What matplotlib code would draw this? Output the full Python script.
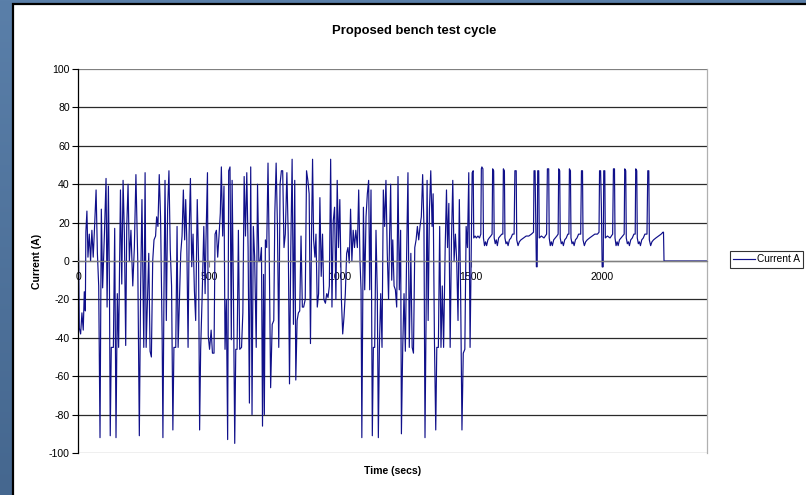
import numpy as np
import matplotlib
matplotlib.use("Agg")
import matplotlib.pyplot as plt
from matplotlib.patches import Rectangle
from matplotlib.colors import LinearSegmentedColormap

plt.rcParams['font.family'] = ['Liberation Sans', 'DejaVu Sans']
plt.rcParams['axes.unicode_minus'] = False

# Drive-cycle portion (0-1500 s): time in seconds, current in amps
drive_time = [
    0, 5, 10, 15, 20, 24, 28, 30, 34, 38, 43, 48, 53, 58, 63, 69, 74, 79, 84, 89,
    94, 101, 107, 111, 116, 120, 123, 127, 135, 140, 145, 150, 155, 162, 167, 172,
    177, 182, 186, 191, 196, 202, 209, 215, 221, 228, 234, 239, 244, 251, 256, 260,
    266, 270, 275, 280, 285,
    290, 296, 300, 305, 310, 315, 321, 324, 328, 332, 337, 342, 347, 352, 357, 362,
    366, 373, 378, 382, 387, 392, 397, 402, 407, 411, 415, 420, 424, 429, 434, 439,
    444, 449, 455, 460, 464, 468, 474, 480, 485, 488, 494, 497, 502, 508, 513, 519,
    523, 528, 533, 538, 543, 547, 552, 557, 561, 566, 571, 575, 580, 585,
    588, 593, 598, 602, 607, 612, 617, 624, 629, 634, 639, 644, 649, 654, 659, 664,
    669, 674, 680, 685, 690, 695, 700, 704, 708, 711, 715, 720, 725, 730, 735, 741,
    747, 751, 756, 761, 766, 771, 776, 781, 786, 791, 797, 802, 807, 812, 817, 822,
    827, 831, 836, 841, 846, 851, 856, 861, 867, 872, 877, 882, 887,
    891, 895, 899, 904, 908, 913, 918, 923, 928, 933, 938, 944, 949, 954, 959, 964,
    969, 974, 979, 984, 989, 994, 999, 1005, 1010, 1015, 1020, 1025, 1030, 1035,
    1040, 1045, 1050, 1055, 1060, 1066, 1071, 1076, 1080, 1083, 1089, 1094, 1099,
    1104, 1109, 1113, 1118, 1123, 1127, 1132, 1137, 1142, 1146, 1150, 1155, 1160,
    1165, 1170, 1175, 1180, 1185,
    1189, 1193, 1197, 1201, 1206, 1211, 1216, 1221, 1226, 1231, 1234, 1239, 1244,
    1249, 1254, 1259, 1264, 1270, 1275, 1280, 1285, 1290, 1295, 1300, 1305, 1310,
    1315, 1320, 1324, 1328, 1332, 1336, 1341, 1346, 1351, 1355, 1360, 1365, 1369,
    1375, 1380, 1385, 1390, 1395, 1401, 1406, 1410, 1415, 1420, 1425, 1430, 1435,
    1440, 1445, 1450, 1455, 1460, 1465, 1470, 1476, 1481, 1486, 1491, 1496,
]
drive_current = [
    32, -35, -38, -27, -36, -16, -26, 15, 26, 2, 14, 0, 16, 2, 17, 37, 4, -13, -92, 27,
    -14, 15, 43, -24, 39, -13, -91, -45, -45, 17, -92, -17, -45, 37, -12, 42,
    14, -44, 18, 40, 0, 16, -13, 7, 45, 0, -91, -13, 32, -45, 46, -45,
    -15, 4, -47, -50, 0,
    11, 13, 23, 18, 45, 23, -38, -92, -17, 42, -31, 27, 47, 6, -13, -88,
    -45, -45, 18, -45, -20, 4, 13, 37, 11, 32, 11, -45, 14, 43, -3, 14,
    -15, -31, 32, 0, -88, -46, -17, 18, -17, 9, 46, -39, -46, -36, -48, -48,
    14, 16, 2, 13, 25, 49, 13, 39, -46, -20, -93, 47, 49, -41,
    42, -15, -95, -46, -46, 16, -46, -45, -27, 44, 13, 46, 7, -74, 49, -80,
    18, 2, -45, 40, 0, 0, 7, -86, -7, -80, 11, 7, 51, 0, -66, -33,
    -31, 25, 51, 18, -45, 40, 47, 47, 7, 14, 46, 14, -64, 7, 53, -33,
    42, -62, -31, -27, -26, 13, -24, -24, -20, 47, 42, 35, -43,
    14, 53, 11, 2, 14, -24, -17, 33, -8, 14, -20, -22, -17, -19, -13, 53,
    -24, 21, 28, -20, 42, 7, 32, -20, -38, -29, -17, 4, 7, -1,
    27, 0, 16, 7, 16, 7, 37, 0, -15, -92, 28, -15, 23,
    35, 42, -15, 37, -91, -45, -45, 16, -17, -92, -45, -17, -45,
    37, 18, 42, 4, -20,
    14, 40, -10, 11, -13, -15, -24, 44, -15, 16, -90, -45, -17,
    -47, 4, 46, -45, 4, -45, -48, 7, 11, 18, 11, 18, 23,
    45, 18, -92, -31, 42, -31, 27, 47, 18, 35, -41, -88, -45,
    -45, 18, -45, -13, -45, 7, 37, 7, 30, -45, 11, 42, 0,
    14, 0, -31, 32, -17, -88, -48, -46, 18, 7, 46, -45,
]

# Constant-load pulse portion (1500-2400 s)
pulse_time = [
    1501, 1504, 1508, 1510, 1515, 1520, 1526, 1532, 1537, 1539, 1541, 1545, 1547,
    1551, 1555, 1559, 1564, 1569, 1575, 1580, 1582, 1586, 1588, 1592, 1596, 1600,
    1605, 1611, 1617, 1621, 1623, 1627, 1629, 1633, 1637, 1641, 1646, 1652, 1658,
    1664, 1667, 1672, 1674, 1679, 1684, 1690, 1700, 1710, 1720, 1730, 1738, 1740,
    1744, 1746, 1749, 1752, 1754, 1758, 1760, 1768, 1778, 1788, 1791, 1796, 1798,
    1802, 1806, 1810, 1815, 1821, 1827, 1832, 1834, 1838, 1840, 1844, 1848, 1852,
    1857, 1863, 1869, 1873, 1875, 1879, 1881, 1885, 1889, 1893, 1898, 1904, 1910,
    1918, 1921, 1925, 1927, 1932, 1937, 1943, 1952, 1962, 1972, 1982, 1988, 1990,
    1994, 1997, 2000, 2004, 2006, 2010, 2012, 2020, 2030, 2040, 2043, 2047, 2049,
    2053, 2057, 2061, 2066, 2072, 2078, 2084, 2086, 2090, 2092, 2096, 2100, 2104,
    2109, 2115, 2121, 2126, 2128, 2132, 2134, 2138, 2142, 2146, 2151, 2157, 2163,
    2171, 2174, 2178, 2180, 2185, 2190, 2196, 2205, 2215, 2225, 2232, 2234, 2236,
    2400,
]
pulse_current = [
    11, 46, 47, 12, 13, 12, 13, 12, 14, 48, 49, 48, 12,
    8, 10, 8, 11, 12, 13, 14, 48, 47, 12, 9, 11, 8,
    12, 13, 14, 14, 48, 47, 12, 9, 10, 8, 11, 12, 14,
    14, 47, 47, 11, 8, 10, 11, 12, 13, 13, 14, 15, 47,
    47, 28, -3, -3, 47, 47, 12, 13, 12, 14, 48, 48, 12,
    8, 10, 8, 11, 12, 13, 14, 48, 47, 12, 9, 10, 8,
    11, 12, 14, 14, 48, 47, 12, 9, 10, 8, 11, 12, 14,
    14, 47, 47, 11, 8, 10, 11, 12, 13, 14, 14, 15, 47,
    47, 28, -3, -3, 47, 47, 12, 13, 12, 14, 48, 48, 12,
    8, 10, 8, 11, 12, 13, 14, 48, 47, 12, 9, 10, 8,
    11, 12, 14, 14, 48, 47, 12, 9, 10, 8, 11, 12, 14,
    14, 47, 47, 11, 8, 10, 11, 12, 13, 14, 15, 15, 0,
    0,
]

x_ticks = [0, 500, 1000, 1500, 2000]
y_ticks = list(range(-100, 101, 20))

time_s = np.array(drive_time + pulse_time)
current = np.array(drive_current + pulse_current)

W, H = 806, 495
fig = plt.figure(figsize=(W / 100, H / 100), dpi=100)

# slide-style blue backdrop
bg = fig.add_axes([0, 0, 1, 1], zorder=-10)
grad = np.linspace(0, 1, 256).reshape(-1, 1)
cmap = LinearSegmentedColormap.from_list('slide', ['#5a7fa9', '#45678f'])
bg.imshow(grad, aspect='auto', cmap=cmap, extent=[0, 1, 0, 1])
bg.set_axis_off()

# white chart panel with dark frame
panel = Rectangle((13.5 / W, -0.05), 1.1, 1 - 4 / H + 0.05, transform=fig.transFigure,
                  facecolor='white', edgecolor='black', linewidth=1.6, zorder=-5)
fig.patches.append(panel)

ax = fig.add_axes([78 / W, (H - 453) / H, 629 / W, 384 / H])
ax.set_facecolor('none')
ax.plot(time_s, current, color='#10108a', linewidth=0.85, label='Current A')

ax.set_xlim(0, 2400)
ax.set_ylim(-100, 100)
ax.set_yticks(y_ticks)
ax.set_xticks(x_ticks)
ax.tick_params(axis='y', direction='out', length=4, width=0.8, color='black',
               labelsize=7.6, pad=2)
ax.tick_params(axis='x', direction='out', length=4, width=0.8, color='#808080',
               labelsize=7.6, pad=4)
for t in y_ticks:
    ax.axhline(t, color='#2a2a2a' if t not in (100, -100) else '#808080',
               linewidth=0.9, zorder=0)

ax.spines['top'].set_visible(False)
ax.spines['left'].set_color('black')
ax.spines['left'].set_linewidth(0.9)
ax.spines['right'].set_color('#b0b0b0')
ax.spines['right'].set_linewidth(0.9)
ax.spines['bottom'].set_position(('data', 0))
ax.spines['bottom'].set_color('#808080')
ax.spines['bottom'].set_linewidth(0.9)

fig.text(414 / W, 1 - 31 / H, 'Proposed bench test cycle', ha='center', va='center',
         fontsize=9.4, fontweight='bold')
fig.text(393 / W, 1 - 471 / H, 'Time (secs)', ha='center', va='center',
         fontsize=7.6, fontweight='bold')
fig.text(37.5 / W, 1 - 261 / H, 'Current (A)', ha='center', va='center',
         rotation=90, fontsize=7.6, fontweight='bold')

leg = ax.legend(loc='center left', bbox_to_anchor=(730 / W, 1 - 259.5 / H),
                bbox_transform=fig.transFigure, fontsize=7.3, frameon=True,
                fancybox=False, borderpad=0.3, handlelength=2.2, handletextpad=0.2,
                borderaxespad=0)
leg.get_frame().set_edgecolor('black')
leg.get_frame().set_linewidth(0.8)

fig.savefig('out.png', dpi=100)
